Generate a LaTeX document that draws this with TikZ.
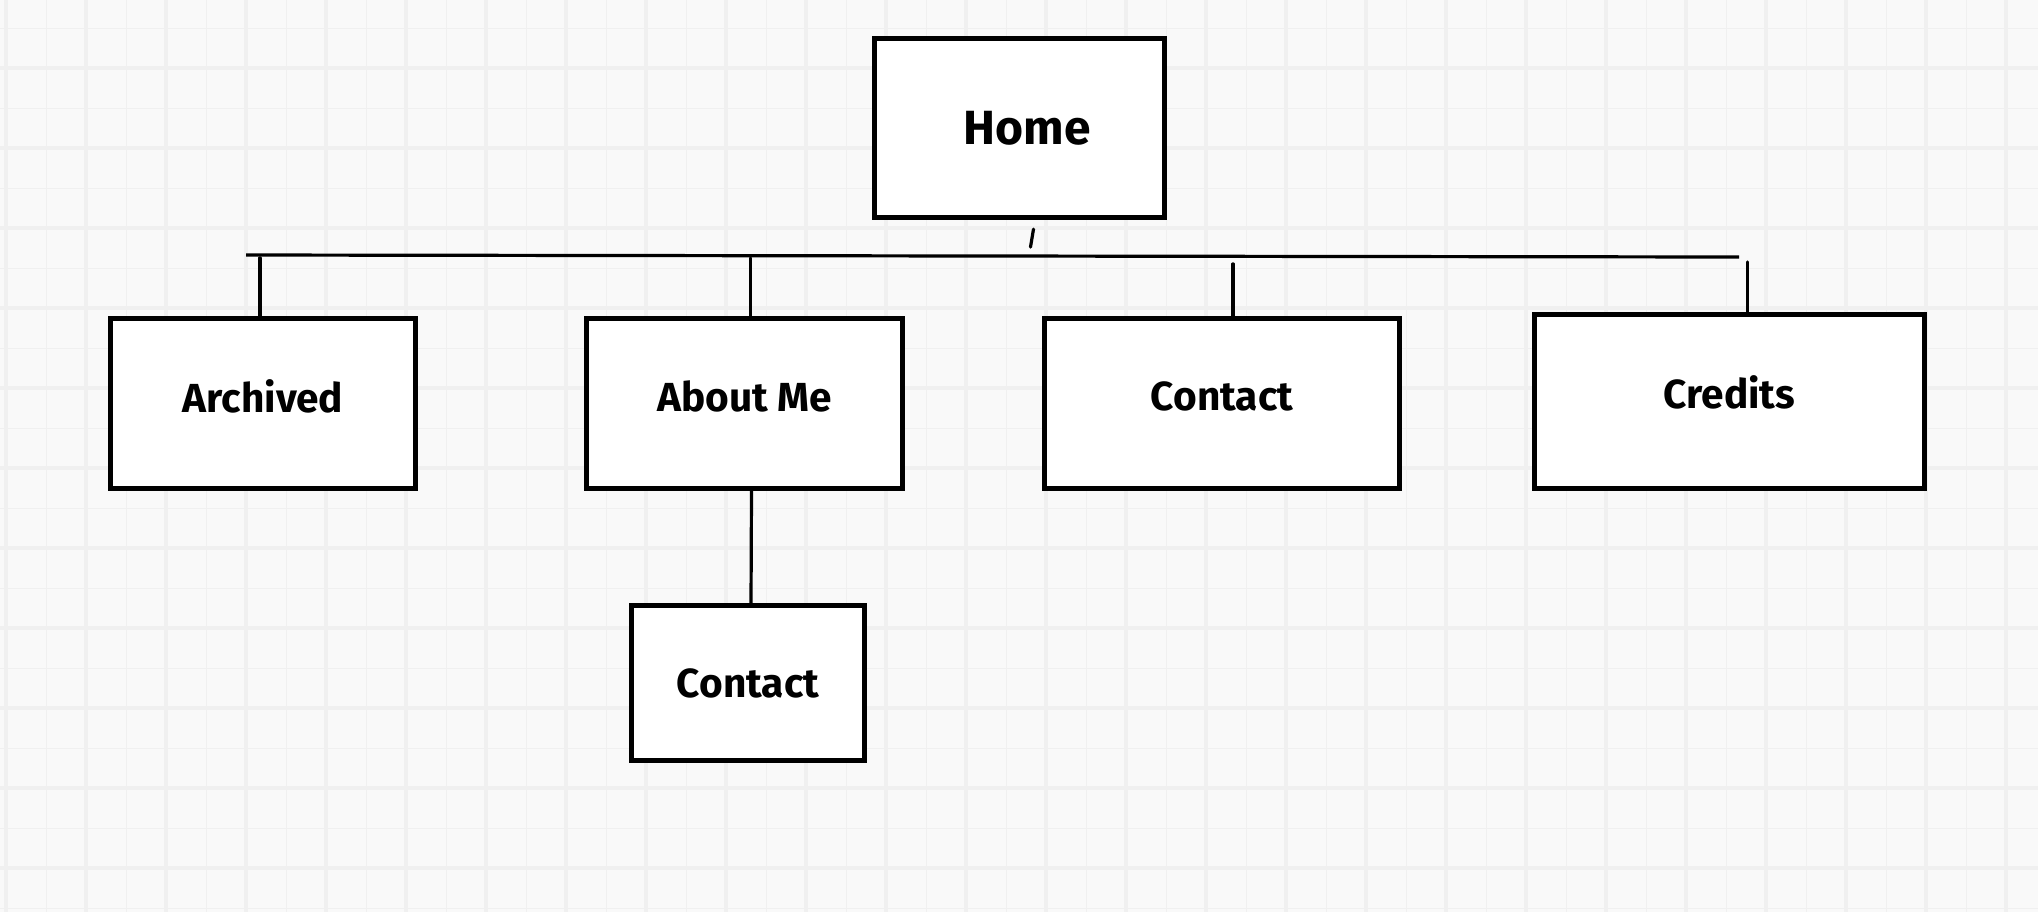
\documentclass[tikz,border=0pt]{standalone}
\usepackage{fontspec}
\setmainfont{Fira Sans}
\usetikzlibrary{calc}
\definecolor{paper}{HTML}{F9F9F9}
\definecolor{gridline}{HTML}{F0F0F0}
\tikzstyle{box} = [rectangle, text centered, draw = black, fill = white, line width = 2.6pt, text depth = 7.5pt, font = \bfseries\fontsize{20.3}{24}\selectfont]
\tikzstyle{link} = [line width = 1.6pt, line cap = round]

\begin{document}
\begin{tikzpicture}[x=0.5pt, y=-0.5pt]
	% paper with grid
	\fill [paper] (0,0) rectangle (2038,912);
	\useasboundingbox (0,0) rectangle (2038,912);
	\foreach \x in {6,86,...,2038} \draw [gridline, line width=2pt] (\x,0) -- (\x,912);
	\foreach \x in {46,126,...,2038} \draw [gridline, line width=0.5pt] (\x,0) -- (\x,912);
	\foreach \y in {68,148,...,912} \draw [gridline, line width=2pt] (0,\y) -- (2038,\y);
	\foreach \y in {28,108,...,912} \draw [gridline, line width=0.5pt] (0,\y) -- (2038,\y);
	% pages
	\node (home) [box, minimum width=145pt, minimum height=89.5pt, text depth=0pt, font=\bfseries\fontsize{24}{28}\selectfont] at (1019.5,128) {\hspace*{8pt}Home};
	\node (arch) [box, minimum width=152.5pt, minimum height=85pt] at (263,403.5) {Archived};
	\node (about) [box, minimum width=158pt, minimum height=85pt] at (744.5,403.5) {About Me};
	\node (cont) [box, minimum width=177.5pt, minimum height=85pt] at (1222,403.5) {Contact};
	\node (cred) [box, minimum width=195pt, minimum height=87pt, text depth=9pt] at (1729.5,401.5) {Credits};
	\node (sub) [box, minimum width=116.5pt, minimum height=77.5pt, text depth=0pt] at (748,683) {Contact};
	% bus
	\coordinate (busL) at (246,255);
	\coordinate (busR) at (1739,257);
	\draw [link, line cap=butt] (busL) -- (busR);
	\draw [link] ($(home.south)+(14,9)$) -- ++(-3,18);
	\draw [link] ([xshift=-1.5pt]arch.north) -- ++(0,-58);
	\draw [link] ([xshift=3pt]about.north) -- ++(0,-58);
	\draw [link] ([xshift=5.5pt]cont.north) -- ++(0,-52);
	\draw [link] ([xshift=9pt]cred.north) -- ++(0,-50);
	\draw [link] ([xshift=3.5pt]about.south) -- ([xshift=1.5pt]sub.north);
\end{tikzpicture}
\end{document}
